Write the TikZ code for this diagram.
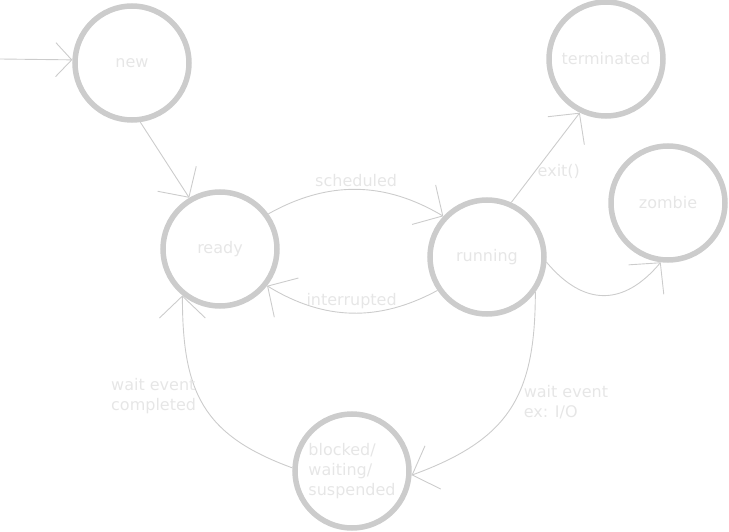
\documentclass[tikz,border=0pt]{standalone}
\usepackage{fontspec}
\setmainfont{DejaVu Sans}
\usetikzlibrary{arrows.meta}
\definecolor{ring}{HTML}{CCCCCC}
\definecolor{faded}{HTML}{E6E6E6}
\tikzset{
  state/.style = {
    circle, draw=ring, line width=5.5pt, minimum size=114pt, inner sep=0pt,
    text=faded, font=\fontsize{16}{20}\selectfont, align=left
  },
  trans/.style = {draw=ring, line width=0.9pt},
  tag/.style = {text=faded, font=\fontsize{16}{20}\selectfont, align=left, inner sep=2pt}
}
\tikzset{>={Straight Barb[length=22pt,width=46pt]}}

\begin{document}
\begin{tikzpicture}[x=1pt,y=1pt]
  \useasboundingbox (0,0) rectangle (729,-532);
  % states
  \node[state] (new) at (132,-63) {new};
  \node[state] (ready) at (220,-249) {ready};
  \node[state] (running) at (487,-257) {running};
  \node[state] (terminated) at (606,-59) {terminated};
  \node[state] (zombie) at (668,-203) {zombie};
  \node[state] (blocked) at (352,-471) {blocked/\\waiting/\\suspended};
  % entry
  \coordinate (start) at (0,-59);
  \draw[trans,-{Straight Barb[length=16pt,width=34pt]}] (start) -- (new.177);
  % transitions
  \draw[trans,->] (new.278) -- (ready.121);
  \draw[trans,->] (ready.36) to[bend left=30] node[tag,above] (scheduled) {scheduled} (running.137);
  \draw[trans,->] (running.214) to[bend left=30] node[tag,above,yshift=2pt] (interrupted) {interrupted} (ready.322);
  \draw[trans,->] (running.66) -- node[tag,right,pos=0.35] (exit) {exit()} (terminated.244);
  \draw[trans,->] (running.-5) to[out=-50,in=-130,looseness=1.3] (zombie.263);
  % wait loop
  \draw[trans,->] (running.-36) to[out=-90,in=20,looseness=1.2] node[tag,right,pos=0.45,xshift=6pt,yshift=-2pt] (io) {wait event\\ex: I/O} (blocked.-4);
  \draw[trans,->] (blocked.177) to[out=160,in=-90,looseness=1.2] node[tag,left,pos=0.5,xshift=-5pt,yshift=9pt] (done) {wait event\\completed} (ready.231);
\end{tikzpicture}
\end{document}
